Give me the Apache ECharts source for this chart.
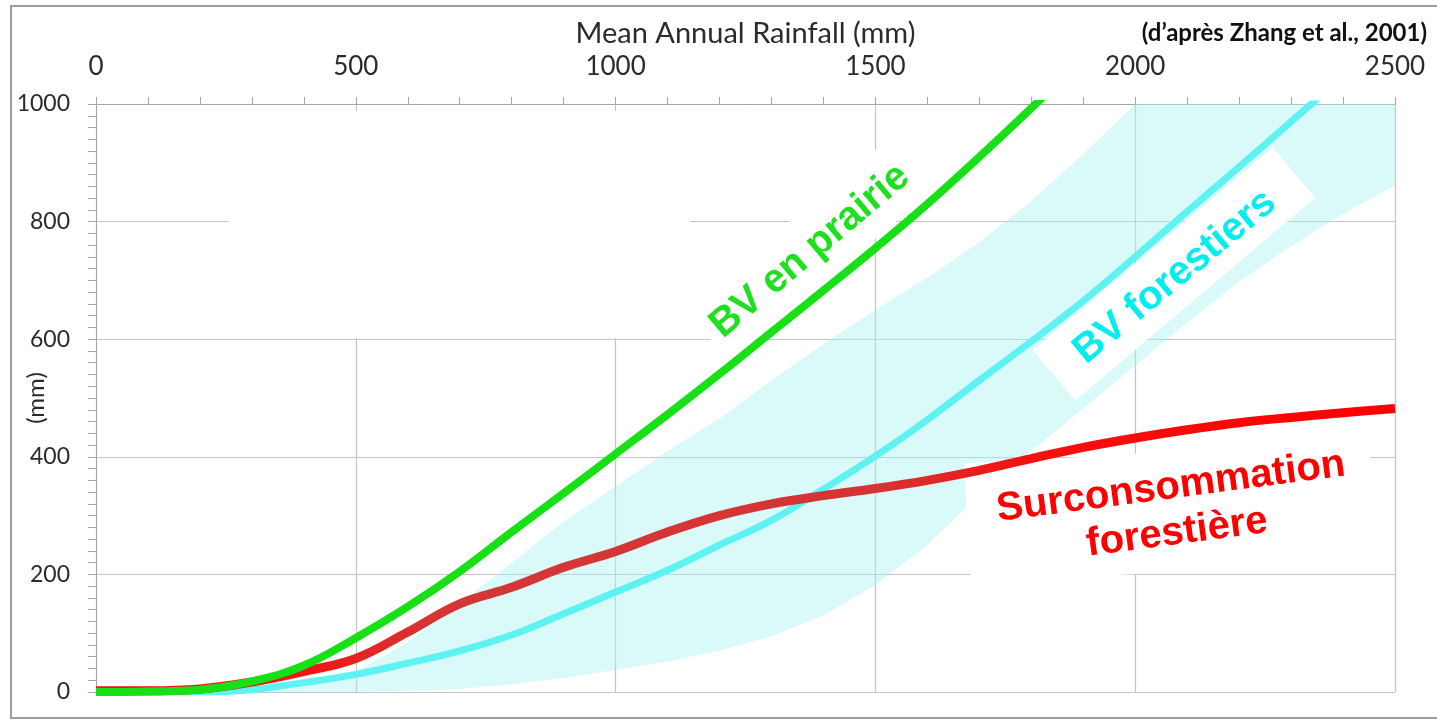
<!DOCTYPE html>
<html>
<head>
<meta charset="utf-8">
<script src="https://cdn.jsdelivr.net/npm/echarts@6/dist/echarts.min.js"></script>
<style>
  html, body { margin: 0; padding: 0; background: #ffffff; }
  #chart { width: 1437px; height: 720px; }
</style>
</head>
<body>
<div id="chart"></div>
<script>
// Mean annual rainfall (mm) at which each curve is sampled
const rainfall = [0, 100, 200, 300, 400, 500, 600, 700, 800, 900, 1000, 1100, 1200,
                  1300, 1400, 1500, 1600, 1700, 1800, 1900, 2000, 2100, 2200, 2300, 2400, 2500];

// Evapotranspiration of grassland catchments (mm)
const grassland = [0, 1, 4, 18, 45, 92, 145, 205, 272, 338, 405, 472, 541,
                   612, 683, 755, 830, 910, 993, 1078, null, null, null, null, null, null];

// Evapotranspiration of forested catchments (mm)
const forested = [0, 0, 0, 4, 16, 30, 49, 70, 97, 133, 170, 207, 250,
                  292, 345, 401, 463, 530, 596, 665, 740, 817, 893, 970, 1047, null];

// Additional water use of forests (mm)
const overuse = [2, 2, 5, 17, 35, 57, 102, 150, 178, 212, 239, 272, 300,
                 320, 334, 346, 360, 377, 397, 416, 432, 446, 458, 467, 475, 482];

// Spread of the forested catchments (lower / upper envelope, mm)
const bandRainfall = [300, 400, 500, 600, 700, 800, 900, 1000, 1100, 1200, 1300, 1400,
                      1500, 1600, 1700, 1800, 1900, 2000, 2100, 2200, 2300, 2400, 2500];
const bandLow  = [0, 0, 0, 2, 5, 13, 24, 38, 52, 70, 95, 130,
                  182, 250, 335, 410, 482, 555, 628, 698, 758, 813, 862];
const bandHigh = [0, 10, 35, 85, 150, 220, 290, 350, 410, 465, 530, 592,
                  650, 705, 765, 835, 915, 1000, 1000, 1000, 1000, 1000, 1000];

const pairs = (xs, ys) => xs.map((x, i) => [x, ys[i]]);
const deg = Math.PI / 180;
const axisGray = '#a6a6a6';
const gridGray = '#c4c4c4';
const labelFont = 'Lato';
const plain = (v) => String(v);

const chart = echarts.init(document.getElementById('chart'), null, { renderer: 'canvas' });

chart.setOption({
  backgroundColor: '#ffffff',
  animation: false,
  grid: { left: 96, right: 42, top: 104, bottom: 28, containLabel: false, outerBoundsMode: 'none' },
  xAxis: {
    type: 'value',
    position: 'top',
    min: 0, max: 2500, interval: 500,
    name: 'Mean Annual Rainfall (mm)',
    nameLocation: 'middle',
    nameGap: 56,
    nameMoveOverlap: false,
    nameTextStyle: { fontFamily: labelFont, fontSize: 29, color: '#2b2b2b' },
    axisLine: { show: true, onZero: false, lineStyle: { color: axisGray, width: 1 } },
    axisTick: { show: true, length: 7, lineStyle: { color: axisGray } },
    minorTick: { show: true, splitNumber: 5, length: 7, lineStyle: { color: axisGray } },
    axisLabel: { fontFamily: labelFont, fontSize: 26, color: '#2b2b2b', margin: 24, formatter: plain },
    splitLine: { show: true, lineStyle: { color: gridGray, width: 1.2 } }
  },
  yAxis: {
    type: 'value',
    min: 0, max: 1000, interval: 200,
    name: '(mm)',
    nameLocation: 'middle',
    nameRotate: 90,
    nameGap: 48,
    nameMoveOverlap: false,
    nameTextStyle: { fontFamily: labelFont, fontSize: 24, color: '#2b2b2b' },
    axisLine: { show: true, onZero: false, lineStyle: { color: axisGray, width: 1 } },
    axisTick: { show: true, length: 8, lineStyle: { color: axisGray } },
    minorTick: { show: true, splitNumber: 10, length: 8, lineStyle: { color: axisGray } },
    axisLabel: { fontFamily: labelFont, fontSize: 23, color: '#2b2b2b', margin: 26, formatter: plain },
    splitLine: { show: true, lineStyle: { color: gridGray, width: 1.2 } }
  },
  series: [
    {
      // envelope of the forested catchments
      type: 'custom',
      name: 'enveloppe',
      z: 1,
      silent: true,
      clip: true,
      data: [[0, 0]],
      renderItem: (params, api) => {
        const pts = [];
        for (let i = 0; i < bandRainfall.length; i++) pts.push(api.coord([bandRainfall[i], bandHigh[i]]));
        for (let i = bandRainfall.length - 1; i >= 0; i--) pts.push(api.coord([bandRainfall[i], bandLow[i]]));
        return { type: 'polygon', shape: { points: pts }, style: { fill: 'rgba(167,242,244,0.42)' } };
      }
    },
    {
      type: 'line', name: 'BV forestiers', z: 3,
      data: pairs(rainfall, forested),
      smooth: 0.4, showSymbol: false, connectNulls: false,
      lineStyle: { color: '#5ef2f2', width: 7 }
    },
    {
      type: 'line', name: 'Surconsommation forestière', z: 4,
      data: pairs(rainfall, overuse),
      smooth: 0.4, showSymbol: false,
      lineStyle: {
        width: 9,
        color: new echarts.graphic.LinearGradient(0, 0, 1, 0, [
          { offset: 0, color: '#ff0a0a' },
          { offset: 0.17, color: '#f01616' },
          { offset: 0.26, color: '#d43636' },
          { offset: 0.6, color: '#d63434' },
          { offset: 0.72, color: '#f51010' },
          { offset: 1, color: '#ff0000' }
        ])
      }
    },
    {
      type: 'line', name: 'BV en prairie', z: 5,
      data: pairs(rainfall, grassland),
      smooth: 0.4, showSymbol: false, connectNulls: false,
      lineStyle: { color: '#17e017', width: 8 }
    }
  ],
  graphic: [
    // outer frame
    { type: 'rect', silent: true, z: 0,
      shape: { x: 11, y: 6, width: 1440, height: 712 },
      style: { fill: 'none', stroke: '#9c9c9c', lineWidth: 2 } },
    // white panels behind the annotations
    { type: 'rect', silent: true, z: 2,
      shape: { x: 229, y: 111, width: 461, height: 227 },
      style: { fill: '#ffffff' } },
    { type: 'rect', silent: true, z: 2, x: 822, y: 239, rotation: 40 * deg,
      shape: { x: -150, y: -34, width: 300, height: 68 },
      style: { fill: '#ffffff' } },
    { type: 'rect', silent: true, z: 2, x: 1174, y: 274, rotation: 40.2 * deg,
      shape: { x: -157, y: -33, width: 314, height: 66 },
      style: { fill: '#ffffff' } },
    { type: 'rect', silent: true, z: 2, x: 1170, y: 512, rotation: 3.2 * deg,
      shape: { x: -203, y: -60, width: 406, height: 120 },
      style: { fill: '#ffffff' } },
    // curve annotations
    { type: 'text', silent: true, z: 6, x: 810, y: 251, rotation: 40.1 * deg,
      style: { text: 'BV en prairie', fill: '#1ee01e', font: 'bold 40px "Liberation Sans", Arial, sans-serif',
               textAlign: 'center', textVerticalAlign: 'middle' } },
    { type: 'text', silent: true, z: 6, x: 1175, y: 277, rotation: 39.6 * deg,
      style: { text: 'BV forestiers', fill: '#00eeee', font: 'bold 40px "Liberation Sans", Arial, sans-serif',
               textAlign: 'center', textVerticalAlign: 'middle' } },
    { type: 'text', silent: true, z: 6, x: 1174, y: 510, rotation: 7.5 * deg,
      style: { text: 'Surconsommation\nforestière', fill: '#ff0000', font: 'bold 40px "Liberation Sans", Arial, sans-serif',
               lineHeight: 46, textAlign: 'center', textVerticalAlign: 'middle' } },
    // source
    { type: 'text', silent: true, z: 6, x: 1427, y: 33,
      style: { text: '(d\u2019après Zhang et al., 2001)', fill: '#111111', font: 'bold 24px Lato, sans-serif',
               textAlign: 'right', textVerticalAlign: 'middle' } }
  ]
});
</script>
</body>
</html>
